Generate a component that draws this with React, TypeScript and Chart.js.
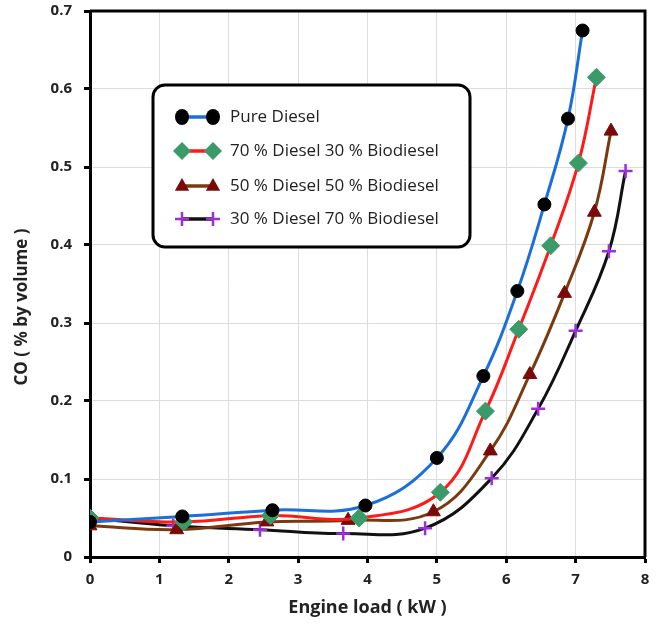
import React, { useEffect, useRef } from "react";
import { Chart, registerables } from "chart.js";

Chart.register(...registerables);

const seriesNames = [
  "Pure Diesel",
  "70 % Diesel 30 % Biodiesel",
  "50 % Diesel 50 % Biodiesel",
  "30 % Diesel 70 % Biodiesel",
];

const loadPure = [0, 1.33, 2.63, 3.97, 5.0, 5.67, 6.16, 6.55, 6.89, 7.1];
const coPure = [0.045, 0.052, 0.06, 0.066, 0.127, 0.232, 0.341, 0.452, 0.562, 0.675];

const loadB30 = [0, 1.35, 2.6, 3.88, 5.05, 5.7, 6.18, 6.64, 7.04, 7.3];
const coB30 = [0.05, 0.045, 0.053, 0.05, 0.083, 0.187, 0.292, 0.399, 0.505, 0.615];

const loadB50 = [0, 1.25, 2.55, 3.72, 4.95, 5.77, 6.34, 6.84, 7.27, 7.51];
const coB50 = [0.04, 0.035, 0.045, 0.047, 0.058, 0.136, 0.234, 0.338, 0.442, 0.546];

const loadB70 = [0, 1.2, 2.45, 3.65, 4.83, 5.79, 6.46, 7.0, 7.48, 7.72];
const coB70 = [0.05, 0.04, 0.035, 0.03, 0.037, 0.101, 0.19, 0.29, 0.392, 0.495];

const xTicks = [0, 1, 2, 3, 4, 5, 6, 7, 8];
const yTicks = [0, 0.1, 0.2, 0.3, 0.4, 0.5, 0.6, 0.7];

const xTitle = "Engine load ( kW )";
const yTitle = "CO ( % by volume )";

const lineColors = ["#1a6fd8", "#ff1a1a", "#7a3a10", "#111111"];
const markerColors = ["#000000", "#3a9a68", "#7a0a0a", "#9b30d9"];
const markerStyles = ["circle", "rectRot", "triangle", "cross"];
const markerRadii = [6.5, 9, 8, 7];

const FONT = "'Open Sans', 'Noto Sans', sans-serif";

function pts(xs: number[], ys: number[]) {
  return xs.map((x, i) => ({ x, y: ys[i] }));
}

function drawMarker(ctx: CanvasRenderingContext2D, style: string, r: number, x: number, y: number, color: string) {
  ctx.save();
  ctx.fillStyle = color;
  ctx.strokeStyle = color;
  ctx.beginPath();
  if (style === "circle") {
    ctx.ellipse(x, y, r + 0.5, r + 1.5, 0, 0, Math.PI * 2);
    ctx.fill();
  } else if (style === "rectRot") {
    ctx.moveTo(x, y - r);
    ctx.lineTo(x + r, y);
    ctx.lineTo(x, y + r);
    ctx.lineTo(x - r, y);
    ctx.closePath();
    ctx.fill();
  } else if (style === "triangle") {
    ctx.moveTo(x, y - r);
    ctx.lineTo(x + r * 0.9, y + r * 0.6);
    ctx.lineTo(x - r * 0.9, y + r * 0.6);
    ctx.closePath();
    ctx.fill();
  } else {
    ctx.lineWidth = 2.5;
    ctx.moveTo(x - r, y);
    ctx.lineTo(x + r, y);
    ctx.moveTo(x, y - r);
    ctx.lineTo(x, y + r);
    ctx.stroke();
  }
  ctx.restore();
}

export default function App() {
  const ref = useRef<HTMLCanvasElement | null>(null);

  useEffect(() => {
    if (!ref.current) return;
    const allX = [loadPure, loadB30, loadB50, loadB70];
    const allY = [coPure, coB30, coB50, coB70];

    const frame = {
      id: "frame",
      afterDatasetsDraw(chart: any) {
        const { ctx, chartArea: a } = chart;
        ctx.save();
        ctx.strokeStyle = "#000";
        ctx.lineWidth = 3;
        ctx.beginPath();
        ctx.moveTo(a.left, a.top);
        ctx.lineTo(a.right, a.top);
        ctx.lineTo(a.right, a.bottom);
        ctx.stroke();
        ctx.restore();
      },
      afterDraw(chart: any) {
        const { ctx } = chart;
        ctx.save();
        // y axis title
        ctx.save();
        ctx.translate(22, 307);
        ctx.rotate(-Math.PI / 2);
        ctx.fillStyle = "#222";
        ctx.font = `bold 17px ${FONT}`;
        ctx.textAlign = "center";
        ctx.textBaseline = "middle";
        ctx.fillText(yTitle, 0, 0);
        ctx.restore();
        // legend
        const bx = 153, by = 85, bw = 317, bh = 162;
        ctx.beginPath();
        (ctx as any).roundRect(bx, by, bw, bh, 12);
        ctx.fillStyle = "#fff";
        ctx.fill();
        ctx.lineWidth = 3;
        ctx.strokeStyle = "#000";
        ctx.stroke();
        const rows = [117, 151, 186, 219];
        seriesNames.forEach((name, i) => {
          const y = rows[i];
          ctx.strokeStyle = lineColors[i];
          ctx.lineWidth = 3.5;
          ctx.beginPath();
          ctx.moveTo(182, y);
          ctx.lineTo(213, y);
          ctx.stroke();
          drawMarker(ctx, markerStyles[i], markerRadii[i], 182, y, markerColors[i]);
          drawMarker(ctx, markerStyles[i], markerRadii[i], 213, y, markerColors[i]);
          ctx.fillStyle = "#222";
          ctx.font = `17px ${FONT}`;
          ctx.textBaseline = "middle";
          ctx.textAlign = "left";
          ctx.fillText(name, 230, y);
        });
        ctx.restore();
      },
    };

    const chart = new Chart(ref.current, {
      type: "line",
      data: {
        datasets: seriesNames.map((name, i) => ({
          label: name,
          data: pts(allX[i], allY[i]),
          borderColor: lineColors[i],
          borderWidth: 3,
          tension: 0.4,
          pointStyle: markerStyles[i] as any,
          pointRadius: markerRadii[i],
          pointBackgroundColor: markerColors[i],
          pointBorderColor: markerColors[i],
          pointBorderWidth: markerStyles[i] === "cross" ? 2.5 : 1,
          fill: false,
        })),
      },
      options: {
        animation: false,
        responsive: false,
        maintainAspectRatio: false,
        layout: { padding: { top: 0, right: 13, left: 0, bottom: 0 } },
        plugins: { legend: { display: false }, tooltip: { enabled: false } },
        scales: {
          x: {
            type: "linear",
            min: 0,
            max: 8,
            afterFit(s: any) {
              s.height = 73;
              s.paddingLeft = 0;
              s.paddingRight = 0;
            },
            afterBuildTicks(s: any) {
              s.ticks = xTicks.map((v) => ({ value: v }));
            },
            grid: { color: "#dcdcdc", lineWidth: 1, tickColor: "#000", tickLength: 6, tickWidth: 3 },
            border: { display: true, color: "#000", width: 3 },
            ticks: {
              color: "#222",
              font: { family: FONT, size: 15, weight: "bold" },
              padding: 8,
              callback: (v: any) => String(v),
            },
            title: {
              display: true,
              text: xTitle,
              color: "#222",
              font: { family: FONT, size: 18, weight: "bold" },
              padding: { top: 0, bottom: 11 },
            },
          },
          y: {
            type: "linear",
            min: 0,
            max: 0.7,
            afterFit(s: any) {
              s.width = 90;
              s.paddingTop = 11;
              s.paddingBottom = 0;
            },
            afterBuildTicks(s: any) {
              s.ticks = yTicks.map((v) => ({ value: v }));
            },
            grid: { color: "#dcdcdc", lineWidth: 1, tickColor: "#000", tickLength: 6, tickWidth: 3 },
            border: { display: true, color: "#000", width: 3 },
            ticks: {
              color: "#222",
              font: { family: FONT, size: 15, weight: "bold" },
              padding: 12,
              callback: (v: any) => (v === 0 ? "0" : Number(v).toFixed(1)),
            },
            title: { display: false },
          },
        },
      } as any,
      plugins: [frame],
    });
    return () => chart.destroy();
  }, []);

  return (
    <div style={{ position: "absolute", left: 0, top: 0, width: 658, height: 630, background: "#fff" }}>
      <canvas ref={ref} width={658} height={630} style={{ width: 658, height: 630, display: "block" }} />
    </div>
  );
}
